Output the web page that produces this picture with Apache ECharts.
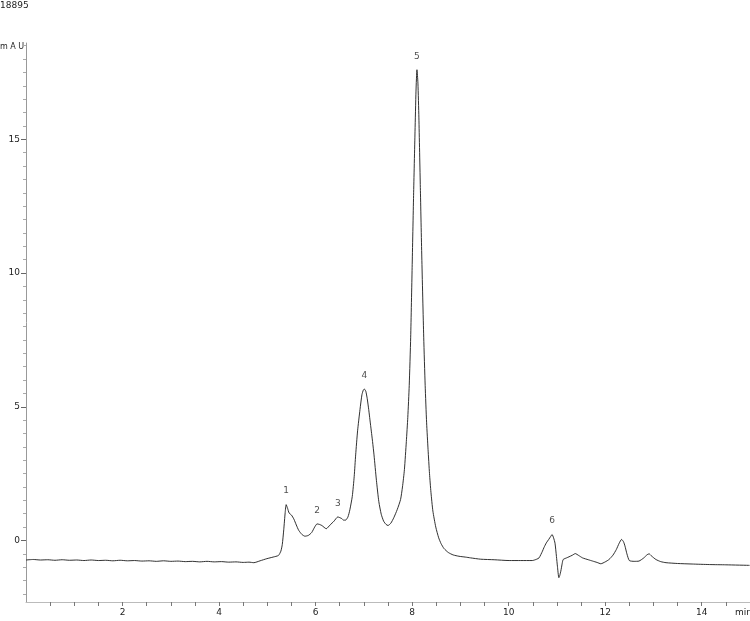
<!DOCTYPE html>
<html>
<head>
<meta charset="utf-8">
<script src="https://cdn.jsdelivr.net/npm/echarts@6/dist/echarts.min.js"></script>
<style>
html,body{margin:0;padding:0;background:#fff;}
#c{width:750px;height:621px;}
</style>
</head>
<body>
<div id="c"></div>
<script>
// Retention time (min) and absorbance (mAU)
const traceTime = [
  0.00,0.15,0.30,0.45,0.60,0.75,0.90,1.05,1.20,1.35,1.50,1.65,1.80,1.95,2.10,2.25,2.40,2.55,2.70,2.85,
  3.00,3.15,3.30,3.45,3.60,3.75,3.90,4.05,4.20,4.35,4.50,4.62,4.72,4.85,4.99,5.12,
  5.23,5.28,5.31,5.34,5.37,5.39,5.42,5.45,5.50,5.55,5.60,5.65,5.72,5.78,5.85,5.92,5.98,6.03,6.08,6.13,
  6.22,6.30,6.38,6.46,6.54,6.58,6.62,6.67,6.71,6.76,6.80,6.83,6.87,6.92,6.96,6.99,7.01,7.04,7.07,7.10,
  7.14,7.18,7.21,7.26,7.31,7.36,7.41,7.46,7.50,7.56,7.62,7.69,7.76,7.80,7.84,7.88,7.91,7.94,7.97,8.00,
  8.03,8.06,8.08,8.10,8.12,8.14,8.17,8.20,8.24,8.27,8.30,8.33,8.36,8.39,8.43,8.49,8.55,8.60,8.66,8.75,
  8.85,8.97,9.10,9.21,9.42,9.70,10.01,10.25,10.49,10.58,10.63,10.70,10.73,10.78,10.83,10.87,
  10.90,10.93,10.96,10.99,11.01,11.04,11.06,11.08,11.11,11.13,11.20,11.25,11.32,11.38,11.45,11.53,11.65,11.74,11.83,11.91,
  12.00,12.08,12.16,12.23,12.29,12.34,12.38,12.41,12.45,12.50,12.60,12.70,12.80,12.87,12.91,12.96,13.05,13.15,13.26,13.50,
  13.80,14.16,14.50,14.99
];
const traceMAU = [
  -0.73,-0.71,-0.73,-0.72,-0.74,-0.72,-0.74,-0.73,-0.75,-0.73,-0.75,-0.74,-0.76,-0.74,-0.76,-0.75,-0.77,-0.76,-0.78,-0.76,
  -0.78,-0.77,-0.79,-0.78,-0.80,-0.78,-0.80,-0.79,-0.81,-0.80,-0.82,-0.81,-0.83,-0.76,-0.68,-0.62,
  -0.56,-0.40,-0.15,0.40,1.05,1.34,1.20,1.03,0.95,0.80,0.58,0.38,0.22,0.16,0.19,0.30,0.50,0.62,0.60,0.56,
  0.44,0.58,0.72,0.88,0.82,0.76,0.76,0.88,1.15,1.65,2.40,3.20,4.10,4.90,5.45,5.63,5.66,5.58,5.30,4.90,
  4.30,3.70,3.20,2.25,1.45,0.98,0.72,0.60,0.56,0.65,0.85,1.15,1.53,2.00,2.65,3.70,4.60,5.80,7.60,10.20,
  12.90,15.30,16.80,17.60,17.10,15.80,13.20,10.60,7.60,5.80,4.40,3.40,2.50,1.80,1.10,0.50,0.10,-0.12,-0.30,-0.45,
  -0.54,-0.59,-0.62,-0.65,-0.70,-0.72,-0.75,-0.75,-0.75,-0.70,-0.65,-0.40,-0.27,-0.09,0.04,0.15,
  0.22,0.10,-0.10,-0.60,-0.96,-1.39,-1.30,-1.15,-0.85,-0.71,-0.65,-0.61,-0.55,-0.49,-0.56,-0.65,-0.72,-0.77,-0.82,-0.87,
  -0.80,-0.71,-0.55,-0.34,-0.10,0.04,-0.05,-0.21,-0.50,-0.75,-0.78,-0.77,-0.65,-0.53,-0.50,-0.58,-0.71,-0.79,-0.83,-0.86,
  -0.88,-0.90,-0.91,-0.93
];
// Peak annotations
const peakNames = ['1','2','3','4','5','6'];
const peakTime  = [5.39, 6.03, 6.46, 7.01, 8.10, 10.90];
const peakMAU   = [1.34, 0.62, 0.88, 5.66, 17.60, 0.22];
// Axis ticks / labels
const xLabels = [2,4,6,8,10,12,14];
const yLabels = [0,5,10,15];
const xTicks = []; for (let i = 1; i <= 29; i++) xTicks.push(i * 0.5);
const yTicks = []; for (let i = -4; i <= 37; i++) yTicks.push(i * 0.5);

const trace = traceTime.map((t, i) => [t, traceMAU[i]]);
const peaks = peakNames.map((n, i) => ({ name: n, value: [peakTime[i], peakMAU[i]] }));

const font = 'DejaVu Sans';
const chart = echarts.init(document.getElementById('c'), null, { renderer: 'canvas' });
chart.setOption({
  animation: false,
  backgroundColor: '#fff',
  grid: { left: 26, right: 0, top: 43, bottom: 19, containLabel: false },
  graphic: [
    { type: 'text', left: 0, top: 1, style: { text: '18895', font: '9px ' + font, fill: '#222' } },
    { type: 'text', left: 0, top: 43, style: { text: 'm A U', font: '8px ' + font, fill: '#222' } },
    { type: 'text', left: 735, top: 608, style: { text: 'min', font: '9px ' + font, fill: '#222' } }
  ],
  xAxis: {
    type: 'value', min: 0, max: 15,
    axisLine: { show: true, onZero: false, lineStyle: { color: '#bbb', width: 1 } },
    axisTick: { show: true, customValues: xTicks, length: 4, lineStyle: { color: '#777' } },
    axisLabel: { customValues: xLabels, color: '#222', fontSize: 9, fontFamily: font, margin: 6 },
    splitLine: { show: false }
  },
  yAxis: [
    {
      type: 'value', min: -2.3, max: 18.6,
      axisLine: { show: true, lineStyle: { color: '#999', width: 1 } },
      axisTick: { show: true, customValues: yTicks, length: 3, lineStyle: { color: '#aaa' } },
      axisLabel: { customValues: yLabels, color: '#222', fontSize: 9, fontFamily: font, margin: 6 },
      splitLine: { show: false }
    },
    {
      type: 'value', min: -2.3, max: 18.6, position: 'left',
      axisLine: { show: false },
      axisTick: { show: true, customValues: yLabels, length: 5, lineStyle: { color: '#666' } },
      axisLabel: { show: false },
      splitLine: { show: false }
    }
  ],
  series: [
    {
      type: 'line', data: trace, showSymbol: false, smooth: 0.2,
      lineStyle: { color: '#1a1a1a', width: 0.9 }, silent: true
    },
    {
      type: 'scatter', data: peaks, symbolSize: 0, silent: true,
      label: { show: true, position: 'top', distance: 9, formatter: '{b}', color: '#222', fontSize: 9, fontFamily: font }
    }
  ]
});
</script>
</body>
</html>
